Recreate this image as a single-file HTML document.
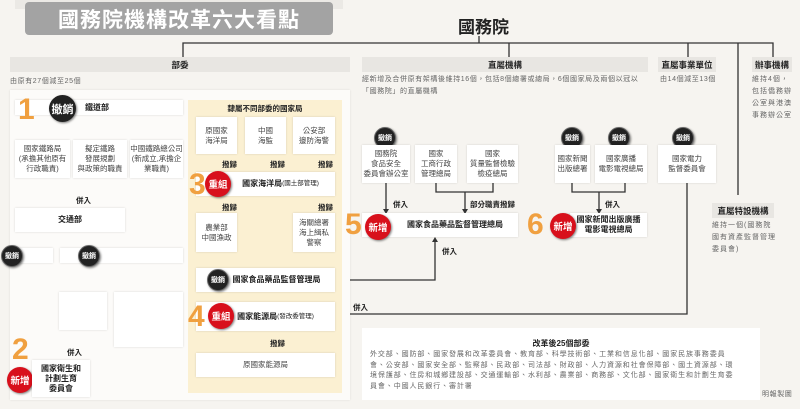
<!DOCTYPE html>
<html><head><meta charset="utf-8"><style>
*{margin:0;padding:0;box-sizing:border-box}
body{width:800px;height:409px;overflow:hidden;background:#f6f4f0;font-family:"Liberation Sans","Noto Sans CJK TC",sans-serif;color:#333;position:relative}
.a{position:absolute}
.bx{position:absolute;background:#fff;box-shadow:0 0 2px rgba(0,0,0,.15);display:flex;align-items:center;justify-content:center;text-align:center;font-size:7.5px;line-height:10px;color:#444}
.b{font-weight:bold;color:#222}
.bar{position:absolute;background:#e8e6e2;font-size:8.5px;font-weight:bold;display:flex;align-items:center;justify-content:center;color:#222}
.bd{position:absolute;border-radius:50%;color:#fff;font-weight:bold;display:flex;align-items:center;justify-content:center;box-shadow:1px 1px 2px rgba(0,0,0,.5)}
.k{background:#222;width:22px;height:22px;font-size:7px;border:1px solid #666}
.r{background:#d8101c;width:26px;height:26px;font-size:9.5px}
.big{background:#222;width:27px;height:27px;font-size:11px}
.n{position:absolute;color:#f0a040;font-weight:bold;font-size:30px;line-height:30px}
.t{position:absolute;font-size:7.5px;font-weight:bold;color:#222}
.g{position:absolute;font-size:7px;color:#666;line-height:12px;letter-spacing:.6px}
</style></head><body>
<div class="a" style="left:15px;top:0;width:328px;height:9px;background:#ebe9e5"></div>
<div class="a" style="left:25px;top:2px;width:308px;height:33px;background:#a3a3a3;border-radius:4px;color:#fff;font-size:21px;font-weight:bold;display:flex;align-items:center;justify-content:center;letter-spacing:1px">國務院機構改革六大看點</div>
<div class="a" style="left:458px;top:13px;font-size:17px;font-weight:bold;color:#222">國務院</div>

<svg class="a" style="left:0;top:0" width="800" height="409">
<g stroke="#333" stroke-width="1.3" fill="none">
<path d="M479 36V43M183 57V43H773V57M509 43V57M688 43V57M738 43V195"/>
<path d="M100 115V127M43 140V127H155V140M100 127V140"/>
<path d="M43 178V193H100V178M70 193V205"/>
<path d="M121 263V277M89 292V277H155V292"/>
<path d="M33 263V345H89V330M61 345V356"/>
<path d="M217 154V168M265 154V168M313 154V168"/>
<path d="M217 213V200M313 213V200"/>
<path d="M265 352V335"/>
<path d="M386 183V211M436 183V192H493V183M465 192V211"/>
<path d="M335 280H435V240"/>
<path d="M572 183V192H625V183M599 192V211"/>
<path d="M687 183V314H338"/>
</g>
<g fill="#333">
<path d="M67 204h6l-3 5z"/><path d="M58 355h6l-3 5z"/>
<path d="M214 167h6l-3 5zM262 167h6l-3 5zM310 167h6l-3 5z"/>
<path d="M214 201h6l-3-5zM310 201h6l-3-5z"/>
<path d="M262 336h6l-3-5z"/>
<path d="M383 209h6l-3 5zM462 209h6l-3 5zM596 209h6l-3 5z"/>
<path d="M432 242h6l-3-5z"/>
<path d="M340 311v6l-5-3z"/>
</g>
</svg>

<div class="bar" style="left:10px;top:57px;width:340px;height:15px">部委</div>
<div class="bar" style="left:362px;top:57px;width:286px;height:15px">直屬機構</div>
<div class="bar" style="left:658px;top:57px;width:58px;height:15px">直屬事業單位</div>
<div class="bar" style="left:752px;top:57px;width:40px;height:15px">辦事機構</div>
<div class="g" style="left:10px;top:76px">由原有27個減至25個</div>
<div class="g" style="left:362px;top:74px;width:290px">經新增及合併原有架構後維持16個，包括8個總署或總局，6個國家局及兩個以冠以「國務院」的直屬機構</div>
<div class="g" style="left:660px;top:74px">由14個減至13個</div>
<div class="g" style="left:752px;top:74px;width:42px;letter-spacing:1px">維持4個，包括僑務辦公室與港澳事務辦公室</div>

<div class="a" style="left:10px;top:90px;width:340px;height:310px;background:#fcfbf9;box-shadow:0 0 2px rgba(0,0,0,.1)"></div>
<div class="a" style="left:188px;top:100px;width:154px;height:293px;background:#fbf0d2"></div>

<div class="bx b" style="left:15px;top:100px;width:168px;height:15px;justify-content:flex-start;padding-left:70px;font-size:8px">鐵道部</div>
<div class="n" style="left:18px;top:95px">1</div>
<div class="bd big" style="left:49px;top:95px">撤銷</div>
<div class="bx" style="left:15px;top:140px;width:55px;height:38px">國家鐵路局<br>(承擔其他原有<br>行政職責)</div>
<div class="bx" style="left:73px;top:140px;width:54px;height:38px">擬定鐵路<br>發展規劃<br>與政策的職責</div>
<div class="bx" style="left:130px;top:140px;width:53px;height:38px">中國鐵路總公司<br>(新成立,承擔企<br>業職責)</div>
<div class="t" style="left:76px;top:195px">併入</div>
<div class="bx b" style="left:15px;top:208px;width:110px;height:24px;font-size:8px">交通部</div>
<div class="bx" style="left:20px;top:248px;width:33px;height:15px"></div>
<div class="bx" style="left:60px;top:248px;width:123px;height:15px"></div>
<div class="bd k" style="left:1px;top:245px">撤銷</div>
<div class="bd k" style="left:78px;top:245px">撤銷</div>
<div class="bx" style="left:59px;top:292px;width:48px;height:38px"></div>
<div class="bx" style="left:114px;top:292px;width:69px;height:55px"></div>
<div class="t" style="left:67px;top:347px">併入</div>
<div class="n" style="left:12px;top:335px">2</div>
<div class="bd r" style="left:7px;top:367px">新增</div>
<div class="bx b" style="left:32px;top:360px;width:58px;height:37px;font-size:8px">國家衛生和<br>計劃生育<br>委員會</div>

<div class="t" style="left:188px;top:103px;width:154px;text-align:center">隸屬不同部委的國家局</div>
<div class="bx" style="left:196px;top:117px;width:41px;height:37px">原國家<br>海洋局</div>
<div class="bx" style="left:245px;top:117px;width:41px;height:37px">中國<br>海監</div>
<div class="bx" style="left:293px;top:117px;width:42px;height:37px">公安部<br>邊防海警</div>
<div class="t" style="left:222px;top:159px">撥歸</div><div class="t" style="left:270px;top:159px">撥歸</div><div class="t" style="left:318px;top:159px">撥歸</div>
<div class="bx b" style="left:196px;top:172px;width:139px;height:24px;font-size:8px;padding-left:30px">國家海洋局<span style="font-weight:normal;font-size:6.5px">(國土部管理)</span></div>
<div class="n" style="left:189px;top:170px">3</div>
<div class="bd r" style="left:205px;top:171px">重組</div>
<div class="t" style="left:222px;top:202px">撥歸</div><div class="t" style="left:318px;top:202px">撥歸</div>
<div class="bx" style="left:196px;top:213px;width:41px;height:39px">農業部<br>中國漁政</div>
<div class="bx" style="left:293px;top:213px;width:42px;height:39px">海關總署<br>海上緝私<br>警察</div>
<div class="bx b" style="left:196px;top:268px;width:139px;height:24px;font-size:8px;padding-left:22px">國家食品藥品監督管理局</div>
<div class="bd k" style="left:207px;top:269px">撤銷</div>
<div class="bx b" style="left:196px;top:302px;width:139px;height:29px;font-size:8px;padding-left:20px">國家能源局<br><span style="font-weight:normal;font-size:6.5px">(發改委管理)</span></div>
<div class="n" style="left:188px;top:302px">4</div>
<div class="bd r" style="left:208px;top:303px">重組</div>
<div class="t" style="left:270px;top:338px">撥歸</div>
<div class="bx" style="left:196px;top:353px;width:139px;height:24px">原國家能源局</div>

<div class="bd k" style="left:374px;top:127px">撤銷</div>
<div class="bx" style="left:362px;top:145px;width:48px;height:38px">國務院<br>食品安全<br>委員會辦公室</div>
<div class="bx" style="left:415px;top:145px;width:42px;height:38px">國家<br>工商行政<br>管理總局</div>
<div class="bx" style="left:467px;top:145px;width:51px;height:38px">國家<br>質量監督檢驗<br>檢疫總局</div>
<div class="t" style="left:393px;top:199px">併入</div>
<div class="t" style="left:470px;top:199px">部分職責撥歸</div>
<div class="bx b" style="left:362px;top:213px;width:156px;height:24px;font-size:8px;padding-left:30px">國家食品藥品監督管理總局</div>
<div class="n" style="left:345px;top:210px">5</div>
<div class="bd r" style="left:365px;top:214px">新增</div>
<div class="t" style="left:442px;top:246px">併入</div>
<div class="t" style="left:353px;top:302px">併入</div>

<div class="bd k" style="left:561px;top:127px">撤銷</div>
<div class="bd k" style="left:608px;top:127px">撤銷</div>
<div class="bx" style="left:555px;top:145px;width:35px;height:38px">國家新聞<br>出版總署</div>
<div class="bx" style="left:595px;top:145px;width:52px;height:38px">國家廣播<br>電影電視總局</div>
<div class="t" style="left:605px;top:199px">併入</div>
<div class="bx b" style="left:570px;top:213px;width:77px;height:24px;font-size:8px">國家新聞出版廣播<br>電影電視總局</div>
<div class="n" style="left:527px;top:210px">6</div>
<div class="bd r" style="left:550px;top:213px">新增</div>

<div class="bd k" style="left:672px;top:127px">撤銷</div>
<div class="bx" style="left:658px;top:145px;width:58px;height:38px">國家電力<br>監督委員會</div>

<div class="bar" style="left:712px;top:203px;width:62px;height:15px">直屬特設機構</div>
<div class="g" style="left:712px;top:220px;width:65px;letter-spacing:1px">維持一個(國務院國有資產監督管理委員會)</div>

<div class="a" style="left:362px;top:328px;width:398px;height:72px;background:#fff"></div>
<div class="t" style="left:362px;top:338px;width:398px;text-align:center;font-size:8px">改革後25個部委</div>
<div class="g" style="left:370px;top:350px;width:370px;line-height:10.5px;letter-spacing:.9px">外交部、國防部、國家發展和改革委員會、教育部、科學技術部、工業和信息化部、國家民族事務委員會、公安部、國家安全部、監察部、民政部、司法部、財政部、人力資源和社會保障部、國土資源部、環境保護部、住房和城鄉建設部、交通運輸部、水利部、農業部、商務部、文化部、國家衛生和計劃生育委員會、中國人民銀行、審計署</div>
<div class="g" style="left:762px;top:389px">明報製圖</div>
</body></html>
